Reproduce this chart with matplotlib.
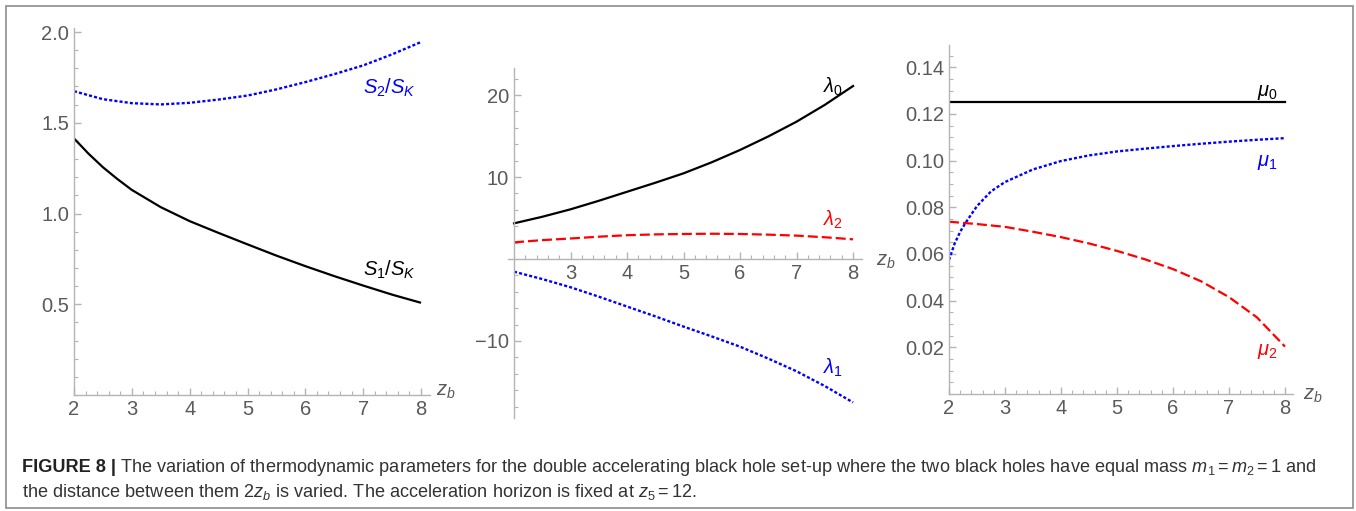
import matplotlib
matplotlib.use("Agg")
import matplotlib.pyplot as plt
from matplotlib.ticker import MultipleLocator
from matplotlib.patches import Rectangle

plt.rcParams['font.family'] = ['Liberation Sans', 'DejaVu Sans']
plt.rcParams['mathtext.fontset'] = 'custom'
plt.rcParams['mathtext.rm'] = 'Liberation Sans'
plt.rcParams['mathtext.it'] = 'Liberation Sans:italic'
plt.rcParams['mathtext.bf'] = 'Liberation Sans:bold'

# values
zb = [2, 2.5, 3, 3.5, 4, 4.5, 5, 5.5, 6, 6.5, 7, 7.5, 8]

zb_s1 = [2, 2.25, 2.5, 2.75, 3, 3.5, 4, 4.5, 5, 5.5, 6, 6.5, 7, 7.5, 8]
s1_sk = [1.414, 1.33, 1.255, 1.19, 1.13, 1.035, 0.958, 0.893, 0.830, 0.768, 0.710, 0.655, 0.603, 0.553, 0.508]
s2_sk = [1.674, 1.63, 1.608, 1.601, 1.610, 1.628, 1.650, 1.684, 1.724, 1.768, 1.816, 1.877, 1.945]

lam0 = [4.35, 5.15, 6.06, 7.1, 8.2, 9.3, 10.45, 11.8, 13.3, 14.95, 16.75, 18.8, 21.1]
lam2 = [2.03, 2.3, 2.5, 2.72, 2.9, 3.0, 3.05, 3.08, 3.05, 2.97, 2.85, 2.65, 2.4]
lam1 = [-1.55, -2.45, -3.45, -4.6, -5.8, -7.0, -8.25, -9.45, -10.7, -12.15, -13.7, -15.5, -17.5]

zb_mu0 = [2, 8]
mu0 = [0.125, 0.125]
zb_mu1 = [2, 2.1, 2.2, 2.3, 2.5, 2.75, 3, 3.5, 4, 4.5, 5, 5.5, 6, 6.5, 7, 7.5, 8]
mu1 = [0.0574, 0.0644, 0.0695, 0.0735, 0.0805, 0.0868, 0.0908, 0.0962, 0.0998, 0.1022,
       0.1039, 0.1051, 0.1062, 0.1072, 0.1081, 0.1089, 0.1096]
mu2 = [0.0738, 0.0728, 0.0716, 0.0695, 0.0672, 0.0645, 0.0613, 0.0577, 0.0535, 0.0483, 0.0415, 0.0328, 0.0203]

caption1 = ("The variation of thermodynamic parameters for the double accelerating black hole "
            "set-up where the two black holes have equal mass $m_1 = m_2 = 1$ and")
caption2 = ("the distance between them $2z_b$ is varied. The acceleration horizon is fixed at $z_5 = 12$.")

W, H = 1356, 511
fig = plt.figure(figsize=(W / 100, H / 100), dpi=100)

AX_GREY = '#b4b4b4'
TXT_GREY = '#5a5a5a'
DOT = (0, (1.3, 0.9))
DASH = (0, (4.5, 1.8))


def px_axes(x0, x1, y0, y1):
    # x0/x1 left/right pixel, y0 top pixel, y1 bottom pixel
    return fig.add_axes([x0 / W, 1 - y1 / H, (x1 - x0) / W, (y1 - y0) / H])


def style(ax, xlim, ylim, ymaj, ymin, ycross):
    ax.set_xlim(*xlim)
    ax.set_ylim(*ylim)
    for s in ['top', 'right']:
        ax.spines[s].set_visible(False)
    ax.spines['left'].set_position(('data', 2))
    ax.spines['bottom'].set_position(('data', ycross))
    for s in ['left', 'bottom']:
        ax.spines[s].set_color(AX_GREY)
        ax.spines[s].set_linewidth(1.0)
    ax.xaxis.set_minor_locator(MultipleLocator(0.2))
    ax.yaxis.set_major_locator(MultipleLocator(ymaj))
    ax.yaxis.set_minor_locator(MultipleLocator(ymin))
    ax.tick_params(which='both', direction='in', color=AX_GREY, labelcolor=TXT_GREY,
                   labelsize=14.5)
    ax.tick_params(which='major', length=5, width=1)
    ax.tick_params(which='minor', length=3, width=0.8)
    ax.patch.set_alpha(0)


# panel 1: entropies
ax1 = px_axes(74, 429.7, 28.4, 395)
style(ax1, (2, 8.15), (0, 2.02), 0.5, 0.1, 0)
ax1.set_xticks([2, 3, 4, 5, 6, 7, 8])
ax1.set_yticks([0.5, 1.0, 1.5, 2.0])
ax1.set_yticklabels(['0.5', '1.0', '1.5', '2.0'])
ax1.plot(zb_s1, s1_sk, color='black', lw=1.6, solid_capstyle='butt')
ax1.plot(zb, s2_sk, color='#0000ff', lw=1.7, ls=DOT, dash_capstyle='butt')
ax1.text(7.46, 1.69, r'$S_2/S_K$', color='#0000ff', fontsize=14.5, ha='center', va='center')
ax1.text(7.46, 0.69, r'$S_1/S_K$', color='black', fontsize=14.5, ha='center', va='center')
ax1.text(8.26, 0.02, r'$z_b$', color=TXT_GREY, fontsize=14.5, ha='left', va='center', clip_on=False)

# panel 2: lambdas
ax2 = px_axes(508.4, 861.5, 68, 418)
style(ax2, (1.9, 8.15), (-19.4, 23.3), 10, 2, 0)
ax2.set_xticks([3, 4, 5, 6, 7, 8])
ax2.set_yticks([-10, 10, 20])
ax2.set_yticklabels(['\u221210', '10', '20'])
ax2.plot(zb, lam0, color='black', lw=1.6)
ax2.plot(zb, lam2, color='#ff0000', lw=1.6, ls=DASH, dash_capstyle='butt')
ax2.plot(zb, lam1, color='#0000ff', lw=1.7, ls=DOT, dash_capstyle='butt')
ax2.text(7.65, 21.0, r'$\lambda_0$', color='black', fontsize=14.5, ha='center', va='center')
ax2.text(7.65, 4.75, r'$\lambda_2$', color='#ff0000', fontsize=14.5, ha='center', va='center')
ax2.text(7.65, -13.3, r'$\lambda_1$', color='#0000ff', fontsize=14.5, ha='center', va='center')
ax2.text(8.4, -0.3, r'$z_b$', color=TXT_GREY, fontsize=14.5, ha='left', va='center', clip_on=False)

# panel 3: mus
ax3 = px_axes(949, 1293.4, 45, 394)
style(ax3, (2, 8.15), (0, 0.1495), 0.02, 0.005, 0)
ax3.set_xticks([2, 3, 4, 5, 6, 7, 8])
ax3.set_yticks([0.02, 0.04, 0.06, 0.08, 0.10, 0.12, 0.14])
ax3.set_yticklabels(['0.02', '0.04', '0.06', '0.08', '0.10', '0.12', '0.14'])
ax3.plot(zb_mu0, mu0, color='black', lw=1.6)
ax3.plot(zb_mu1, mu1, color='#0000ff', lw=1.7, ls=DOT, dash_capstyle='butt')
ax3.plot(zb, mu2, color='#ff0000', lw=1.6, ls=DASH, dash_capstyle='butt')
ax3.text(7.68, 0.129, r'$\mu_0$', color='black', fontsize=14.5, ha='center', va='center')
ax3.text(7.68, 0.099, r'$\mu_1$', color='#0000ff', fontsize=14.5, ha='center', va='center')
ax3.text(7.68, 0.018, r'$\mu_2$', color='#ff0000', fontsize=14.5, ha='center', va='center')
ax3.text(8.33, -0.0005, r'$z_b$', color=TXT_GREY, fontsize=14.5, ha='left', va='center', clip_on=False)

# outer frame
fig.patches.append(Rectangle((6 / W, 1 - 508 / H), 1347 / W, 502 / H, transform=fig.transFigure,
                             fill=False, edgecolor='#8c8c8c', lw=1.2))

# caption
CAP = 13.1
r = fig.canvas.get_renderer()
t = fig.text(22 / W, 1 - 467 / H, 'FIGURE 8 |', fontsize=CAP, fontweight='bold',
             color='#222222', va='center', ha='left')
bb = t.get_window_extent(renderer=r)
fig.text((bb.x1 + 4) / W, 1 - 467 / H, caption1, fontsize=CAP, color='#333333',
         va='center', ha='left')
fig.text(22 / W, 1 - 492 / H, caption2, fontsize=CAP, color='#333333', va='center', ha='left')

fig.savefig('out.png', dpi=100)
